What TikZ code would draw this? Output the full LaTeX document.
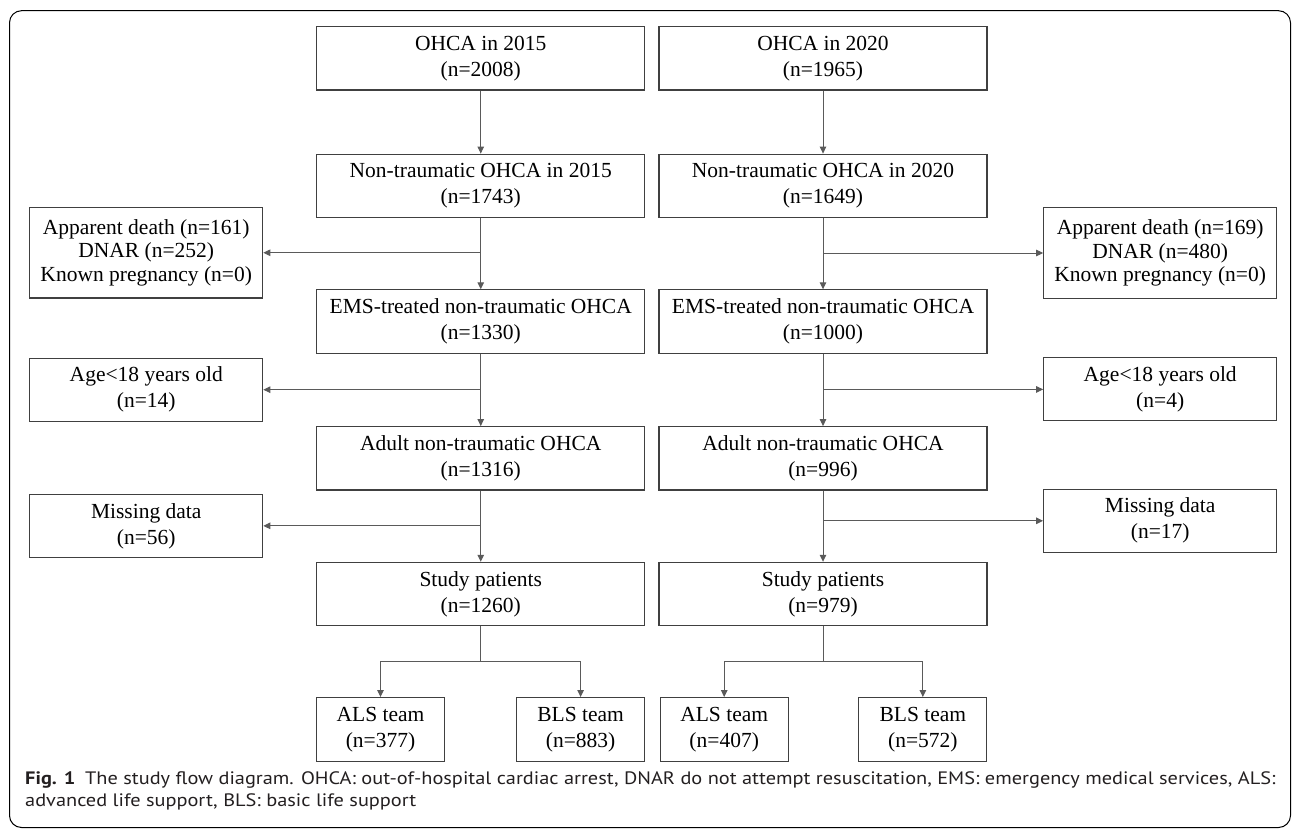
\documentclass[tikz,border=0pt]{standalone}
\usepackage{fontspec}
\setmainfont{Liberation Serif}
\newfontfamily\capfont[FakeStretch=1.13]{PT Sans}
\usetikzlibrary{arrows.meta}
\definecolor{boxgray}{HTML}{404040}
\definecolor{linegray}{HTML}{5A5A5A}
\definecolor{captext}{HTML}{231F20}
\begin{document}
\begin{tikzpicture}[x=1pt,y=-1pt,
  box/.style={draw=boxgray, line width=1.1pt, inner sep=0pt, align=center, text=black,
    font=\fontsize{21.5}{26}\selectfont},
  colbox/.style={box, minimum width=328pt, minimum height=63.3pt},
  sidebox/.style={box, minimum width=233pt, minimum height=63pt},
  threebox/.style={box, minimum width=233pt, minimum height=90.5pt,
    font=\fontsize{21.5}{23.5}\selectfont},
  teambox/.style={box, minimum width=128pt, minimum height=64pt},
  ln/.style={draw=linegray, line width=1pt},
  arr/.style={ln, -{Triangle[length=7pt,width=6.5pt]}},
  captxt/.style={anchor=base west, inner sep=0pt, text=captext,
    font=\capfont\fontsize{18}{20}\selectfont}
]
\useasboundingbox (0,0) rectangle (1292,829);
\draw[black, line width=1pt, rounded corners=12pt] (9.5,10.7) rectangle (1290.5,827.5);

% left column
\node[colbox] (L1) at (480.75,58.35) {OHCA in 2015\\(n=2008)};
\node[colbox] (L2) at (480.75,185.8) {Non-traumatic OHCA in 2015\\(n=1743)};
\node[colbox] (L3) at (480.75,321.5) {EMS-treated non-traumatic OHCA\\(n=1330)};
\node[colbox] (L4) at (480.75,458.3) {Adult non-traumatic OHCA\\(n=1316)};
\node[colbox] (L5) at (480.75,594) {Study patients\\(n=1260)};
\node[teambox] (LALS) at (380.5,729.6) {ALS team\\(n=377)};
\node[teambox] (LBLS) at (580.6,729.6) {BLS team\\(n=883)};

% right column
\node[colbox] (R1) at (823,58.35) {OHCA in 2020\\(n=1965)};
\node[colbox] (R2) at (823,185.8) {Non-traumatic OHCA in 2020\\(n=1649)};
\node[colbox] (R3) at (823,321.5) {EMS-treated non-traumatic OHCA\\(n=1000)};
\node[colbox] (R4) at (823,458.3) {Adult non-traumatic OHCA\\(n=996)};
\node[colbox] (R5) at (823,594) {Study patients\\(n=979)};
\node[teambox] (RALS) at (724.2,729.6) {ALS team\\(n=407)};
\node[teambox] (RBLS) at (922.85,729.6) {BLS team\\(n=572)};

% left side boxes
\node[threebox] (LA) at (146.25,252.75) {Apparent death (n=161)\\DNAR (n=252)\\Known pregnancy (n=0)};
\node[sidebox] (LB) at (146.25,389.7) {Age\textless18 years old\\(n=14)};
\node[sidebox] (LC) at (146.25,525.85) {Missing data\\(n=56)};

% right side boxes
\node[threebox] (RA) at (1160.2,253) {Apparent death (n=169)\\DNAR (n=480)\\Known pregnancy (n=0)};
\node[sidebox] (RB) at (1160.2,389.4) {Age\textless18 years old\\(n=4)};
\node[sidebox] (RC) at (1160.2,520.8) {Missing data\\(n=17)};

% left connectors
\draw[arr] (L1.south) -- (L2.north);
\draw[arr] (L2.south) -- (L3.north);
\draw[arr] (L2.south |- LA.east) -- (LA.east);
\draw[arr] (L3.south) -- (L4.north);
\draw[arr] (L3.south |- LB.east) -- (LB.east);
\draw[arr] (L4.south) -- (L5.north);
\draw[arr] (L4.south |- LC.east) -- (LC.east);
\coordinate (Ls) at (480.75,661.7);
\draw[ln] (L5.south) -- (Ls);
\draw[arr] (Ls) -| (LALS.north);
\draw[arr] (Ls) -| (LBLS.north);

% right connectors
\draw[arr] (R1.south) -- (R2.north);
\draw[arr] (R2.south) -- (R3.north);
\draw[arr] (R2.south |- RA.west) -- (RA.west);
\draw[arr] (R3.south) -- (R4.north);
\draw[arr] (R3.south |- RB.west) -- (RB.west);
\draw[arr] (R4.south) -- (R5.north);
\draw[arr] (R4.south |- RC.west) -- (RC.west);
\coordinate (Rs) at (823,661.7);
\draw[ln] (R5.south) -- (Rs);
\draw[arr] (Rs) -| (RALS.north);
\draw[arr] (Rs) -| (RBLS.north);

% caption
\node[captxt] (cap1) at (25,784.3) {\textbf{Fig. 1}\hspace{0.55em}The study flow diagram. OHCA: out-of-hospital cardiac arrest, DNAR do not attempt resuscitation, EMS: emergency medical services, ALS:};
\node[captxt] (cap2) at (25,806.5) {advanced life support, BLS: basic life support};
\end{tikzpicture}
\end{document}
